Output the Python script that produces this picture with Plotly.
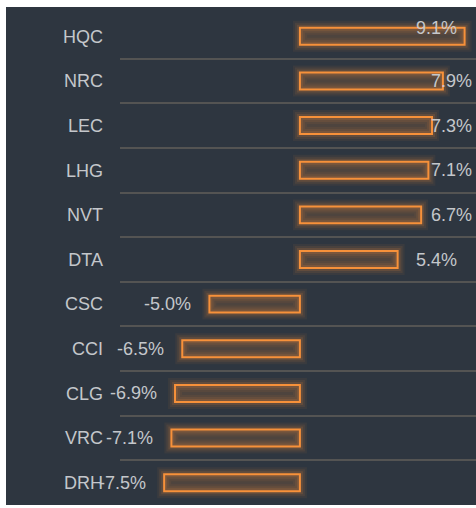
import plotly.graph_objects as go

categories = ["HQC", "NRC", "LEC", "LHG", "NVT", "DTA", "CSC", "CCI", "CLG", "VRC", "DRH"]
values = [9.1, 7.9, 7.3, 7.1, 6.7, 5.4, -5.0, -6.5, -6.9, -7.1, -7.5]
labels = ["9.1%", "7.9%", "7.3%", "7.1%", "6.7%", "5.4%", "-5.0%", "-6.5%", "-6.9%", "-7.1%", "-7.5%"]

W, H = 476, 508
ML, MR, MT, MB = 120, 0, 14, 3
XR = [-9.94, 9.73]
plot_w = W - ML - MR
scale = plot_w / (XR[1] - XR[0])
zero_px = ML + (0 - XR[0]) * scale

PANEL = "#2E3640"
ORANGE = "#F7913A"
TXT = "#c4c7cb"
FONT = "Liberation Sans, Arial, sans-serif"

fig = go.Figure()

# glow layers
for lw, a in [(14, 0.06), (10, 0.09), (6, 0.14)]:
    fig.add_trace(go.Bar(
        x=values, y=categories, orientation="h",
        marker=dict(color="rgba(0,0,0,0)", line=dict(color=f"rgba(247,145,58,{a})", width=lw)),
        hoverinfo="skip", showlegend=False,
    ))

fig.add_trace(go.Bar(
    x=values, y=categories, orientation="h",
    marker=dict(color="rgba(247,145,58,0.16)", line=dict(color=ORANGE, width=2)),
    showlegend=False,
))

TEXT_W = 42
annotations = []
for c, v, t in zip(categories, values, labels):
    end_px = zero_px + v * scale
    if v >= 0:
        left = end_px + 16
        if left + TEXT_W > W - 2:
            if end_px > (W - 2 - TEXT_W) + 20:
                px = end_px - 6
                ys = 8
            else:
                px = W - 2
                ys = 0
            annotations.append(dict(x=(px - ML) / plot_w, xref="paper", y=c, yref="y",
                                    text=t, showarrow=False, xanchor="right", yshift=ys,
                                    font=dict(size=18, color=TXT, family=FONT)))
        else:
            annotations.append(dict(x=v, xref="x", y=c, yref="y", text=t, showarrow=False,
                                    xanchor="left", xshift=16,
                                    font=dict(size=18, color=TXT, family=FONT)))
    else:
        annotations.append(dict(x=v, xref="x", y=c, yref="y", text=t, showarrow=False,
                                xanchor="right", xshift=-16,
                                font=dict(size=18, color=TXT, family=FONT)))

plot_h = H - MT - MB
fig.update_layout(
    width=W, height=H,
    margin=dict(l=ML, r=MR, t=MT, b=MB, pad=0),
    paper_bgcolor="white", plot_bgcolor=PANEL,
    barmode="overlay", bargap=0.62,
    font=dict(family=FONT, size=18, color=TXT),
    xaxis=dict(range=XR, visible=False, showgrid=False, zeroline=False, fixedrange=True),
    yaxis=dict(categoryorder="array", categoryarray=categories, autorange="reversed",
               tickson="boundaries", showgrid=True, gridcolor="#545453", gridwidth=1.5,
               ticks="", ticklabelstandoff=16, tickfont=dict(size=18, color=TXT, family=FONT),
               zeroline=False, showline=False, fixedrange=True),
    shapes=[dict(type="rect", xref="paper", yref="paper", layer="below",
                 x0=(6 - ML) / plot_w, x1=1.0, y0=0, y1=(H - MB - 7) / plot_h,
                 fillcolor=PANEL, line=dict(width=0))],
    annotations=annotations,
)

fig.write_html("out.html", config={"displayModeBar": False})

with open("out.html", "r", encoding="utf-8") as f:
    html = f.read()
html = html.replace("<head>", "<head><style>html,body{margin:0;padding:0;overflow:hidden;}</style>", 1)
with open("out.html", "w", encoding="utf-8") as f:
    f.write(html)
